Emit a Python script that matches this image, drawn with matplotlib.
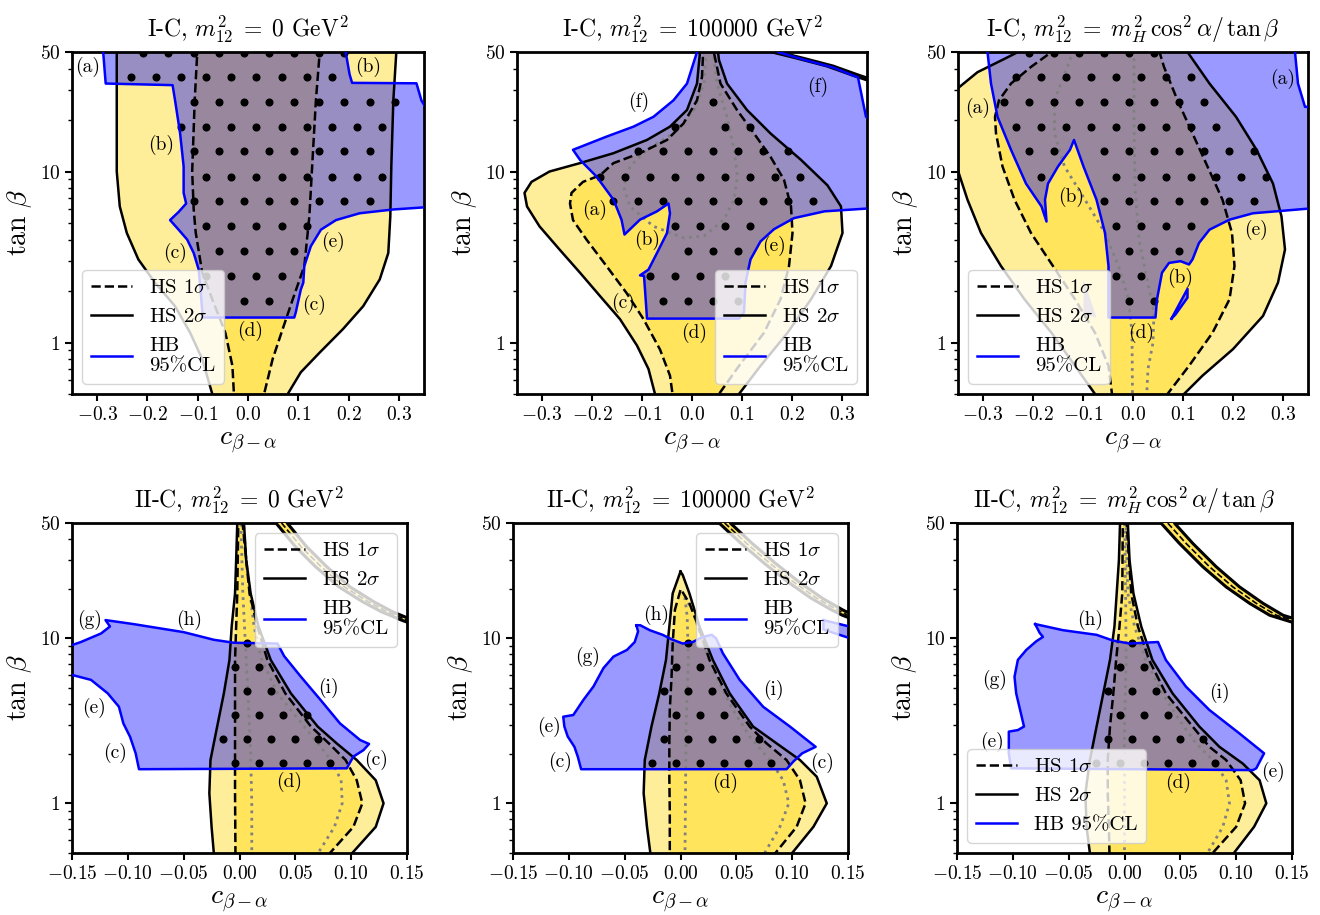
import numpy as np
import matplotlib
matplotlib.use('Agg')
import matplotlib.pyplot as plt
from matplotlib.lines import Line2D
from matplotlib.ticker import FixedLocator, FixedFormatter, LogLocator, NullFormatter

plt.rcParams.update({
    'font.family': 'serif', 'font.serif': ['cmr10'], 'mathtext.fontset': 'cm',
    'axes.unicode_minus': False, 'axes.formatter.use_mathtext': True,
    'axes.linewidth': 2.0,
})

LIGHT = '#FFEE99'
DARK = '#FFE45C'

# ---------------- data ----------------
TITLES = [r'I-C, $m_{12}^2\;=\;0$ GeV$^2$', r'I-C, $m_{12}^2\;=\;100000$ GeV$^2$',
          r'I-C, $m_{12}^2\;=\;m_H^2\,\cos^2\alpha/\,\tan\beta$',
          r'II-C, $m_{12}^2\;=\;0$ GeV$^2$', r'II-C, $m_{12}^2\;=\;100000$ GeV$^2$',
          r'II-C, $m_{12}^2\;=\;m_H^2\,\cos^2\alpha/\,\tan\beta$']
TOP_XTICKS = [-0.3, -0.2, -0.1, 0.0, 0.1, 0.2, 0.3]
BOT_XTICKS = [-0.15, -0.10, -0.05, 0.00, 0.05, 0.10, 0.15]
YTICKS = [1, 10, 50]
YTICKLABELS = ['$1$', '$10$', '$50$']

DOT_ROWS_TANB = [49.3, 35.8, 25.6, 18.3, 13.1, 9.35, 6.69, 4.78, 3.42, 2.45, 1.75]
TOP_FAM_EVEN = [-0.3083, -0.2583, -0.2083, -0.1583, -0.1083, -0.0583, -0.0083, 0.0417,
                0.0917, 0.1417, 0.1917, 0.2417, 0.2917, 0.3417]
TOP_FAM_ODD = [-0.3333, -0.2833, -0.2333, -0.1833, -0.1333, -0.0833, -0.0333, 0.0167,
               0.0667, 0.1167, 0.1667, 0.2167, 0.2667, 0.3167]
BOT_FAM_EVEN = [-0.0686, -0.0471, -0.0257, -0.0043, 0.0171, 0.0386, 0.0600, 0.0814, 0.1029]
BOT_FAM_ODD = [-0.0579, -0.0364, -0.0150, 0.0064, 0.0279, 0.0493, 0.0707, 0.0921]

# ---- panel 1: I-C, m12^2 = 0
P1_SIG2 = [(-0.261, 56), (-0.261, 20), (-0.261, 10), (-0.255, 6.25), (-0.241, 4.37), (-0.218, 3.06),
           (-0.185, 2.24), (-0.145, 1.63), (-0.115, 1.14), (-0.091, 0.8), (-0.071, 0.5), (-0.069, 0.47),
           (0.081, 0.47), (0.079, 0.5), (0.105, 0.67), (0.142, 0.87), (0.189, 1.2), (0.229, 1.63),
           (0.262, 2.34), (0.279, 3.34), (0.283, 5.46), (0.285, 10.7), (0.289, 26), (0.296, 56)]
P1_SIG1 = [(-0.100, 56), (-0.106, 26), (-0.111, 10), (-0.108, 6), (-0.104, 4.4), (-0.091, 2.56),
           (-0.071, 1.79), (-0.045, 1.14), (-0.031, 0.73), (-0.028, 0.5), (-0.027, 0.47), (0.033, 0.47),
           (0.032, 0.5), (0.049, 0.8), (0.069, 1.2), (0.089, 1.79), (0.112, 2.8), (0.122, 5.46),
           (0.127, 10), (0.135, 26), (0.144, 56)]
P1_HB = [(-0.289, 56), (-0.288, 50), (-0.283, 32.7), (-0.150, 32), (-0.145, 26), (-0.135, 16.7),
         (-0.128, 10.7), (-0.128, 7.5), (-0.123, 6.5), (-0.138, 5.8), (-0.155, 5.2), (-0.138, 4.57),
         (-0.121, 4.0), (-0.108, 3.34), (-0.098, 2.67), (-0.095, 2.14), (-0.090, 1.4), (0.092, 1.4),
         (0.095, 1.5), (0.105, 2.04), (0.110, 2.24), (0.112, 2.8), (0.125, 3.66), (0.145, 4.57),
         (0.175, 5.2), (0.222, 5.7), (0.289, 6.0), (0.36, 6.2), (0.36, 22), (0.345, 26),
         (0.335, 32.8), (0.207, 33), (0.202, 37), (0.195, 48.6), (0.193, 56)]
P1_DOTS = [(0, -0.21, 0.19), (1, -0.235, 0.17), (2, -0.11, 0.29), (3, -0.135, 0.27), (4, -0.11, 0.245),
           (5, -0.085, 0.27), (6, -0.11, 0.245), (7, -0.085, 0.12), (8, -0.06, 0.095),
           (9, -0.085, 0.07), (10, -0.01, 0.045)]
P1_LABELS = [(-0.318, 40.9, '(a)'), (0.239, 40.9, '(b)'), (-0.173, 14.3, '(b)'), (-0.145, 3.34, '(c)'),
             (0.169, 3.9, '(e)'), (0.132, 1.67, '(c)'), (0.005, 1.17, '(d)')]

# ---- panel 2: I-C, m12^2 = 100000
P2_SIG2 = [(0.017, 56), (0.016, 50), (0.010, 32.7), (-0.010, 22.9), (-0.044, 18.3), (-0.090, 15.3),
           (-0.157, 12.8), (-0.224, 11.2), (-0.285, 10.0), (-0.321, 8.7), (-0.335, 7.5), (-0.330, 6.25),
           (-0.305, 4.78), (-0.265, 3.5), (-0.224, 2.56), (-0.184, 1.87), (-0.144, 1.37), (-0.110, 0.96),
           (-0.087, 0.7), (-0.074, 0.5), (-0.072, 0.47), (0.096, 0.47), (0.094, 0.5), (0.137, 0.73),
           (0.191, 1.14), (0.238, 1.79), (0.278, 2.8), (0.301, 4.37), (0.298, 6.25), (0.271, 8.3),
           (0.218, 11.7), (0.157, 16.7), (0.110, 22.9), (0.070, 32.7), (0.054, 44.8), (0.050, 56)]
P2_SIG1 = [(0.023, 56), (0.020, 35.8), (0.010, 26.1), (-0.017, 19.1), (-0.050, 15.3), (-0.104, 12.8),
           (-0.157, 11.2), (-0.184, 9.5), (-0.218, 8.7), (-0.241, 7.5), (-0.244, 6.5), (-0.238, 5.2),
           (-0.211, 4.0), (-0.171, 2.8), (-0.131, 1.95), (-0.097, 1.37), (-0.064, 0.91), (-0.044, 0.64),
           (-0.039, 0.5), (-0.038, 0.47), (0.052, 0.47), (0.054, 0.5), (0.094, 0.73), (0.144, 1.14),
           (0.177, 1.79), (0.194, 2.8), (0.201, 4.37), (0.198, 6.25), (0.184, 8.95), (0.157, 12.2),
           (0.124, 16.7), (0.090, 22.9), (0.057, 32.7), (0.040, 56)]
P2_GREY = [[(0.030, 56), (0.024, 32.7), (0.004, 22.9), (-0.037, 16.7), (-0.091, 13.4), (-0.124, 10.7),
            (-0.137, 8.17), (-0.124, 6.25), (-0.077, 4.78), (-0.017, 4.09), (0.024, 4.2), (0.064, 5.23),
            (0.084, 6.84), (0.091, 9.35), (0.084, 13.4), (0.070, 20.9), (0.050, 32.7), (0.040, 56)]]
P2_HB = [(0.012, 56), (0.010, 50), (-0.010, 32.7), (-0.037, 26.1), (-0.077, 20.9), (-0.117, 18.3),
         (-0.171, 16.0), (-0.224, 13.9), (-0.238, 13.4), (-0.224, 11.7), (-0.191, 9.35), (-0.157, 6.84),
         (-0.141, 5.23), (-0.135, 4.28), (-0.104, 5.23), (-0.070, 5.85), (-0.047, 6.5), (-0.044, 5.7),
         (-0.050, 4.37), (-0.070, 3.34), (-0.087, 2.67), (-0.104, 2.47), (-0.096, 2.45), (-0.094, 2.04),
         (-0.090, 1.38), (0.094, 1.38), (0.104, 1.5), (0.107, 2.24), (0.117, 3.06), (0.137, 3.9),
         (0.164, 4.6), (0.204, 5.34), (0.265, 5.85), (0.36, 6.1), (0.36, 19.5), (0.348, 20.9),
         (0.332, 35.5), (0.282, 40.6), (0.222, 45.2), (0.172, 50), (0.168, 56)]
P2_BAND = [(0.160, 56), (0.166, 50), (0.216, 46), (0.276, 41.4), (0.326, 36.7), (0.36, 34)]
P2_DOTS = [(2, 0.04, 0.045), (3, -0.035, -0.03), (3, 0.06, 0.12), (4, -0.11, 0.195), (5, -0.185, 0.22),
           (6, -0.16, 0.245), (7, -0.035, 0.12), (8, -0.01, 0.095), (9, -0.085, 0.07), (10, -0.06, 0.095)]
P2_LABELS = [(-0.106, 25.6, '(f)'), (0.251, 31.2, '(f)'), (-0.194, 6.0, '(a)'), (-0.090, 4.0, '(b)'),
             (0.164, 3.66, '(e)'), (-0.137, 1.71, '(c)'), (0.005, 1.14, '(d)')]

# ---- panel 3: I-C, m12^2 = mH^2 cos^2(a)/tan(b)
P3_SIG2 = [(-0.36, 29.0), (-0.355, 29.9), (-0.311, 38.1), (-0.257, 45.6), (-0.230, 50), (-0.225, 56),
           (0.112, 56), (0.109, 50), (0.153, 32.7), (0.206, 20.9), (0.247, 13.4), (0.280, 8.5),
           (0.297, 5.46), (0.304, 3.5), (0.290, 2.24), (0.260, 1.43), (0.200, 0.915), (0.139, 0.64),
           (0.102, 0.5), (0.098, 0.47), (-0.078, 0.47), (-0.076, 0.5), (-0.116, 0.73), (-0.163, 1.14),
           (-0.217, 1.79), (-0.264, 2.8), (-0.304, 4.37), (-0.331, 6.84), (-0.355, 11.2), (-0.36, 11.8)]
P3_SIG1 = [(-0.160, 56), (-0.163, 50), (-0.204, 40.9), (-0.244, 32.7), (-0.268, 26.1), (-0.276, 20.9),
           (-0.274, 16.7), (-0.261, 10.7), (-0.237, 6.84), (-0.204, 4.37), (-0.160, 2.8), (-0.116, 1.79),
           (-0.076, 1.14), (-0.049, 0.73), (-0.042, 0.5), (-0.041, 0.47), (0.067, 0.47), (0.069, 0.5),
           (0.112, 0.73), (0.159, 1.14), (0.193, 1.79), (0.203, 2.8), (0.198, 4.37), (0.179, 6.84),
           (0.149, 10.7), (0.119, 16.7), (0.089, 26.1), (0.062, 40.9), (0.053, 50), (0.052, 56)]
P3_GREY = [[(-0.112, 56), (-0.120, 50), (-0.157, 26.1), (-0.157, 16.7), (-0.137, 10.7), (-0.096, 6.84),
            (-0.056, 4.37), (-0.029, 2.8), (-0.009, 1.79), (-0.002, 1.14), (-0.001, 0.47)],
           [(0.002, 56), (0.002, 20), (0.004, 8), (0.012, 4), (0.030, 2.2), (0.042, 1.5), (0.040, 1.0),
            (0.030, 0.7), (0.027, 0.47)]]
P3_HB = [(-0.291, 56), (-0.291, 50), (-0.284, 32.7), (-0.271, 20.9), (-0.244, 13.4), (-0.214, 8.5),
         (-0.183, 6.25), (-0.173, 5.1), (-0.176, 6.84), (-0.170, 8.5), (-0.150, 10.7), (-0.126, 13.4),
         (-0.118, 15.3), (-0.099, 10.7), (-0.073, 6.84), (-0.056, 4.37), (-0.049, 2.8), (-0.049, 1.4),
         (0.045, 1.4), (0.048, 1.79), (0.058, 2.56), (0.072, 2.92), (0.095, 2.99), (0.112, 2.86),
         (0.119, 3.06), (0.132, 3.82), (0.153, 4.57), (0.193, 5.23), (0.240, 5.7), (0.36, 6.1),
         (0.36, 23.9), (0.344, 23.9), (0.330, 32.7), (0.324, 50), (0.324, 56)]
P3_HB_SMALL = [(-0.099, 2.34), (-0.073, 1.40), (-0.099, 1.46)]
P3_HB_TINY = [(0.077, 1.38), (0.109, 2.06), (0.109, 1.83), (0.085, 1.46)]
P3_DOTS = [(0, -0.21, 0.045), (1, -0.235, 0.12), (2, -0.26, 0.145), (3, -0.235, 0.17),
           (4, -0.21, -0.155), (4, -0.06, 0.245), (5, -0.185, -0.18), (5, -0.035, 0.27),
           (6, -0.06, 0.245), (7, -0.035, 0.12), (8, -0.01, 0.095), (9, -0.035, 0.02), (10, -0.01, 0.045)]
P3_LABELS = [(-0.311, 23.4, '(a)'), (0.300, 35.0, '(a)'), (-0.123, 7.14, '(b)'), (0.245, 4.57, '(e)'),
             (0.095, 2.39, '(b)'), (0.016, 1.14, '(d)')]

# ---- panel 4: II-C, m12^2 = 0
P4_SIG2 = [(-0.002, 56), (-0.002, 50), (-0.003, 29.8), (-0.004, 18.7), (-0.007, 11.8), (-0.009, 7.39),
           (-0.014, 4.64), (-0.020, 2.92), (-0.026, 1.83), (-0.027, 1.15), (-0.025, 0.72), (-0.023, 0.5),
           (-0.023, 0.47), (0.103, 0.47), (0.101, 0.5), (0.122, 0.72), (0.129, 1.0), (0.122, 1.38),
           (0.105, 1.83), (0.087, 2.31), (0.070, 2.92), (0.046, 4.64), (0.028, 7.39), (0.017, 11.8),
           (0.010, 18.7), (0.006, 29.8), (0.004, 50), (0.004, 56)]
P4_SIG1 = [(-0.001, 56), (-0.002, 18.7), (-0.004, 7.39), (-0.004, 2.92), (-0.004, 1.15), (-0.0036, 0.47),
           (0.080, 0.47), (0.081, 0.5), (0.102, 0.72), (0.110, 1.0), (0.105, 1.38), (0.095, 1.83),
           (0.080, 2.31), (0.064, 2.92), (0.041, 4.64), (0.025, 7.39), (0.016, 11.8), (0.009, 18.7),
           (0.002, 56)]
P4_GREY = [[(0.011, 0.47), (0.011, 1.0), (0.010, 2.0), (0.008, 4.0), (0.006, 7.39), (0.003, 18.7),
            (0.001, 56)],
           [(0.068, 0.47), (0.085, 0.72), (0.092, 1.0), (0.091, 1.38), (0.082, 1.83), (0.058, 2.92),
            (0.034, 4.64), (0.020, 7.39), (0.013, 11.8), (0.006, 29.8), (0.003, 56)]]
P4_HB = [(-0.16, 9.1), (-0.150, 9.1), (-0.142, 9.5), (-0.124, 10.7), (-0.116, 11.8), (-0.120, 12.9),
         (-0.095, 12.2), (-0.050, 10.9), (-0.023, 9.8), (-0.005, 9.4), (0.034, 9.3), (0.040, 7.8),
         (0.055, 5.85), (0.073, 4.2), (0.090, 3.05), (0.108, 2.42), (0.116, 2.29), (0.111, 2.1),
         (0.102, 1.92), (0.096, 1.63), (-0.090, 1.61), (-0.093, 2.01), (-0.098, 2.53), (-0.104, 3.05),
         (-0.108, 3.85), (-0.118, 4.64), (-0.133, 5.6), (-0.150, 6.0), (-0.16, 6.1)]
P4_BAND = [(0.034, 56), (0.038, 49.7), (0.055, 36), (0.073, 27.2), (0.094, 20.5), (0.115, 16.7),
           (0.132, 14.5), (0.150, 12.9), (0.160, 12.2)]
P4_DOTS = [(5, 0.005, 0.008), (6, -0.005, 0.02), (7, 0.005, 0.03), (8, -0.005, 0.062),
           (9, -0.016, 0.072), (10, -0.005, 0.085)]
P4_LABELS = [(-0.134, 12.9, '(g)'), (-0.045, 12.9, '(h)'), (0.080, 5.03, '(i)'), (-0.130, 3.76, '(e)'),
             (-0.111, 2.01, '(c)'), (0.122, 1.83, '(c)'), (0.044, 1.35, '(d)')]

# ---- panel 5: II-C, m12^2 = 100000
P5_SIG2 = [(0.000, 25.4), (-0.007, 18.7), (-0.010, 11.8), (-0.013, 7.39), (-0.019, 4.64), (-0.026, 2.92),
           (-0.032, 1.83), (-0.033, 1.15), (-0.030, 0.72), (-0.027, 0.5), (-0.027, 0.47), (0.102, 0.47),
           (0.100, 0.5), (0.119, 0.72), (0.131, 1.0), (0.122, 1.45), (0.107, 1.83), (0.086, 2.31),
           (0.065, 2.92), (0.044, 4.64), (0.029, 7.39), (0.017, 11.8), (0.008, 18.7), (0.002, 24.2)]
P5_SIG1 = [(0.000, 19.6), (-0.005, 14.9), (-0.007, 9.3), (-0.008, 5.85), (-0.0096, 3.68), (-0.010, 2.31),
           (-0.010, 1.45), (-0.0096, 0.9), (-0.0096, 0.47), (0.083, 0.47), (0.085, 0.5), (0.104, 0.72),
           (0.112, 1.0), (0.107, 1.38), (0.095, 1.83), (0.077, 2.31), (0.062, 2.92), (0.041, 4.64),
           (0.026, 7.39), (0.016, 11.8), (0.008, 16.3), (0.002, 19.0)]
P5_GREY = [[(0.004, 0.47), (0.005, 2.92), (0.007, 7.39), (0.006, 13.5), (0.004, 17.5), (0.008, 16.0),
            (0.011, 14.9), (0.020, 9.3), (0.032, 5.85), (0.047, 3.68), (0.062, 2.54), (0.080, 1.83),
            (0.092, 1.38), (0.097, 1.0), (0.089, 0.72), (0.073, 0.47)]]
P5_HB = [(-0.0395, 12.0), (-0.038, 11.0), (-0.041, 9.5), (-0.048, 8.5), (-0.060, 7.75), (-0.069, 6.6),
         (-0.078, 5.1), (-0.087, 4.23), (-0.096, 3.43), (-0.105, 3.35), (-0.104, 2.92), (-0.101, 2.54),
         (-0.095, 2.2), (-0.092, 1.92), (-0.089, 1.61), (0.095, 1.61), (0.101, 1.79), (0.109, 2.01),
         (0.121, 2.2), (0.098, 2.92), (0.074, 3.85), (0.053, 5.6), (0.038, 8.1), (0.032, 9.97),
         (0.028, 10.5), (0.020, 10.2), (0.011, 9.5), (0.002, 9.3), (-0.007, 9.8), (-0.016, 10.5),
         (-0.0275, 11.2), (-0.036, 12.0)]
P5_HB_STRIP = [(0.128, 12.9), (0.16, 11.4), (0.16, 9.6), (0.128, 11.3)]
P5_BAND = [(0.036, 56), (0.040, 49.7), (0.059, 37.7), (0.080, 28.5), (0.101, 22.0), (0.122, 17.5),
           (0.140, 14.9), (0.150, 13.8), (0.160, 13.0)]
P5_DOTS = [(5, 0.005, 0.008), (6, -0.005, 0.02), (7, -0.016, 0.03), (8, -0.005, 0.04),
           (9, -0.016, 0.072), (10, -0.027, 0.085)]
P5_LABELS = [(-0.022, 13.8, '(h)'), (-0.083, 7.75, '(g)'), (0.083, 4.86, '(i)'), (-0.118, 2.92, '(e)'),
             (-0.108, 1.79, '(c)'), (0.127, 1.75, '(c)'), (0.040, 1.32, '(d)')]

# ---- panel 6: II-C, m12^2 = mH^2 cos^2(a)/tan(b)
P6_SIG2 = [(-0.004, 56), (-0.004, 50), (-0.005, 29.8), (-0.007, 18.7), (-0.009, 11.8), (-0.013, 7.39),
           (-0.019, 4.64), (-0.025, 2.92), (-0.031, 1.83), (-0.035, 1.15), (-0.034, 0.72), (-0.031, 0.5),
           (-0.031, 0.47), (0.100, 0.47), (0.098, 0.5), (0.116, 0.72), (0.127, 1.0), (0.121, 1.38),
           (0.106, 1.74), (0.085, 2.2), (0.067, 2.92), (0.043, 4.64), (0.025, 7.39), (0.015, 11.8),
           (0.008, 18.7), (0.0045, 29.8), (0.003, 50), (0.003, 56)]
P6_SIG1 = [(-0.0015, 56), (-0.002, 18.7), (-0.0045, 11.8), (-0.0075, 7.39), (-0.010, 4.64), (-0.013, 2.92),
           (-0.015, 1.83), (-0.015, 1.15), (-0.014, 0.72), (-0.0134, 0.47), (0.078, 0.47), (0.079, 0.5),
           (0.100, 0.72), (0.108, 1.0), (0.104, 1.38), (0.091, 1.83), (0.076, 2.2), (0.061, 2.92),
           (0.037, 4.64), (0.022, 7.39), (0.012, 11.8), (0.006, 18.7), (0.0015, 56)]
P6_GREY = [[(0.000, 0.47), (0.000, 2.92), (0.0015, 7.39), (0.001, 18.7), (0.000, 56)],
           [(0.072, 0.47), (0.088, 0.72), (0.094, 1.0), (0.091, 1.38), (0.079, 1.83), (0.064, 2.31),
            (0.049, 3.2), (0.034, 4.64), (0.019, 7.39), (0.009, 11.8), (0.003, 18.7), (0.001, 56)]]
P6_HB = [(-0.080, 12.2), (-0.055, 11.2), (-0.025, 10.5), (-0.0105, 9.7), (0.0045, 9.3), (0.030, 9.5),
         (0.037, 7.4), (0.055, 5.1), (0.076, 3.68), (0.103, 2.65), (0.125, 2.01), (0.118, 1.63),
         (0.115, 1.59), (-0.1015, 1.63), (-0.1036, 2.0), (-0.1036, 2.72), (-0.0955, 2.78), (-0.090, 2.92),
         (-0.097, 4.64), (-0.0985, 5.85), (-0.0955, 7.4), (-0.088, 8.5), (-0.079, 9.6), (-0.073, 10.2),
         (-0.076, 10.8)]
P6_BAND = [(0.036, 56), (0.039, 49.7), (0.055, 37.7), (0.076, 27.2), (0.097, 20.5), (0.118, 16.3),
           (0.136, 13.8), (0.150, 12.9), (0.160, 12.3)]
P6_DOTS = [(5, 0.005, 0.008), (6, -0.005, 0.02), (7, -0.016, 0.03), (8, -0.005, 0.04),
           (9, -0.016, 0.072), (10, -0.027, 0.085)]
P6_LABELS = [(-0.031, 12.9, '(h)'), (-0.116, 5.6, '(g)'), (0.085, 4.69, '(i)'), (-0.1185, 2.37, '(e)'),
             (0.133, 1.56, '(e)'), (0.048, 1.32, '(d)')]


# ---------------- drawing ----------------
def xy(pts, close=False):
    a = np.array(pts, dtype=float)
    if close:
        a = np.vstack([a, a[:1]])
    return a[:, 0], a[:, 1]


def band_poly(center, dx):
    c = np.array(center, dtype=float)
    left = np.column_stack([c[:, 0] - dx, c[:, 1]])
    right = np.column_stack([c[:, 0] + dx, c[:, 1]])[::-1]
    return np.vstack([left, right])


def dot_positions(rows, fam_even, fam_odd):
    xs, ys = [], []
    for k, lo, hi in rows:
        fam = fam_even if k % 2 == 0 else fam_odd
        for x in fam:
            if lo - 0.004 <= x <= hi + 0.004:
                xs.append(x)
                ys.append(DOT_ROWS_TANB[k])
    return xs, ys


def draw(ax, sig2, sig1, hbs, greys, bands, dots, fams, labels, xlim, xticks, fmt, title,
         leg_loc, hb_text, hb_small=(), hb_strips=()):
    x, t = xy(sig2)
    ax.fill(x, t, facecolor=LIGHT, edgecolor='none', zorder=1)
    x, t = xy(sig1)
    ax.fill(x, t, facecolor=DARK, edgecolor='none', zorder=1.1)
    for center, dx in bands:
        bp = band_poly(center, dx)
        ax.fill(bp[:, 0], bp[:, 1], facecolor=DARK, edgecolor='k', lw=2.2, zorder=3)
        cx, ct = xy(center)
        ax.plot(cx, ct, color='k', ls='--', lw=1.2, zorder=3.1)
    for g in greys:
        gx, gt = xy(g)
        ax.plot(gx, gt, color='#808080', ls=':', lw=2.0, zorder=2.5)
    x, t = xy(sig2, close=True)
    ax.plot(x, t, color='k', lw=1.8, zorder=3)
    x, t = xy(sig1, close=True)
    ax.plot(x, t, color='k', ls='--', lw=1.8, zorder=3)
    for hb in list(hbs) + list(hb_strips):
        x, t = xy(hb)
        ax.fill(x, t, facecolor='blue', alpha=0.4, edgecolor='none', zorder=2)
        x, t = xy(hb, close=True)
        ax.plot(x, t, color='blue', lw=1.8, zorder=5)
    for hb in hb_small:
        x, t = xy(hb)
        ax.fill(x, t, facecolor='blue', alpha=0.4, edgecolor='none', zorder=2)
    dx_, dy_ = dot_positions(dots, fams[0], fams[1])
    ax.plot(dx_, dy_, 'o', color='k', ms=4.8, ls='none', zorder=4)
    for lx, lt, s in labels:
        ax.text(lx, lt, s, fontsize=14, ha='center', va='center', zorder=6)

    ax.set_yscale('log')
    ax.set_xlim(*xlim)
    ax.set_ylim(0.5, 50)
    ax.yaxis.set_major_locator(FixedLocator(YTICKS))
    ax.yaxis.set_major_formatter(FixedFormatter(YTICKLABELS))
    ax.yaxis.set_minor_locator(LogLocator(base=10, subs=(2, 3, 4, 5, 6, 7, 8, 9)))
    ax.yaxis.set_minor_formatter(NullFormatter())
    ax.xaxis.set_major_locator(FixedLocator(xticks))
    ax.xaxis.set_major_formatter(FixedFormatter([fmt.format(v) for v in xticks]))
    ax.tick_params(which='major', labelsize=14, length=5, width=1.5)
    ax.tick_params(which='minor', length=3, width=1.0)
    ax.set_xlabel(r'$c_{\beta-\alpha}$', fontsize=20, labelpad=4)
    ax.set_ylabel(r'$\tan\,\beta$', fontsize=20, labelpad=4)
    ax.set_title(title, fontsize=17, pad=11)

    handles = [Line2D([], [], color='k', ls='--', lw=1.8), Line2D([], [], color='k', lw=1.8),
               Line2D([], [], color='blue', lw=1.8)]
    leg = ax.legend(handles, [r'HS 1$\sigma$', r'HS 2$\sigma$', hb_text], loc=leg_loc, fontsize=15)
    leg.set_zorder(10)


fig = plt.figure(figsize=(13.2, 9.15), dpi=100)
W, H = 1320.0, 915.0
def add(l, r, top, bot):
    return fig.add_axes([l / W, 1 - bot / H, (r - l) / W, (bot - top) / H])

ax1 = add(72, 424, 52, 394)
ax2 = add(517, 867, 52, 394)
ax3 = add(958, 1308, 52, 394)
ax4 = add(72, 407, 523, 853)
ax5 = add(513, 848, 523, 853)
ax6 = add(957, 1292, 523, 853)

TOPF = (TOP_FAM_EVEN, TOP_FAM_ODD)
BOTF = (BOT_FAM_EVEN, BOT_FAM_ODD)
HB2 = 'HB\n95%CL'

draw(ax1, P1_SIG2, P1_SIG1, [P1_HB], [], [], P1_DOTS, TOPF, P1_LABELS, (-0.35, 0.35), TOP_XTICKS,
     '${:.1f}$', TITLES[0], 'lower left', HB2)
draw(ax2, P2_SIG2, P2_SIG1, [P2_HB], P2_GREY, [(P2_BAND, 0.006)], P2_DOTS, TOPF, P2_LABELS,
     (-0.35, 0.35), TOP_XTICKS, '${:.1f}$', TITLES[1], 'lower right', HB2)
draw(ax3, P3_SIG2, P3_SIG1, [P3_HB, P3_HB_TINY], P3_GREY, [], P3_DOTS, TOPF, P3_LABELS,
     (-0.35, 0.35), TOP_XTICKS, '${:.1f}$', TITLES[2], 'lower left', HB2, hb_small=[P3_HB_SMALL])
draw(ax4, P4_SIG2, P4_SIG1, [P4_HB], P4_GREY, [(P4_BAND, 0.005)], P4_DOTS, BOTF, P4_LABELS,
     (-0.15, 0.15), BOT_XTICKS, '${:.2f}$', TITLES[3], 'upper right', HB2)
draw(ax5, P5_SIG2, P5_SIG1, [P5_HB], P5_GREY, [(P5_BAND, 0.005)], P5_DOTS, BOTF, P5_LABELS,
     (-0.15, 0.15), BOT_XTICKS, '${:.2f}$', TITLES[4], 'upper right', HB2, hb_strips=[P5_HB_STRIP])
draw(ax6, P6_SIG2, P6_SIG1, [P6_HB], P6_GREY, [(P6_BAND, 0.006)], P6_DOTS, BOTF, P6_LABELS,
     (-0.15, 0.15), BOT_XTICKS, '${:.2f}$', TITLES[5], 'lower left', 'HB 95%CL')

fig.savefig('out.png', dpi=100)
